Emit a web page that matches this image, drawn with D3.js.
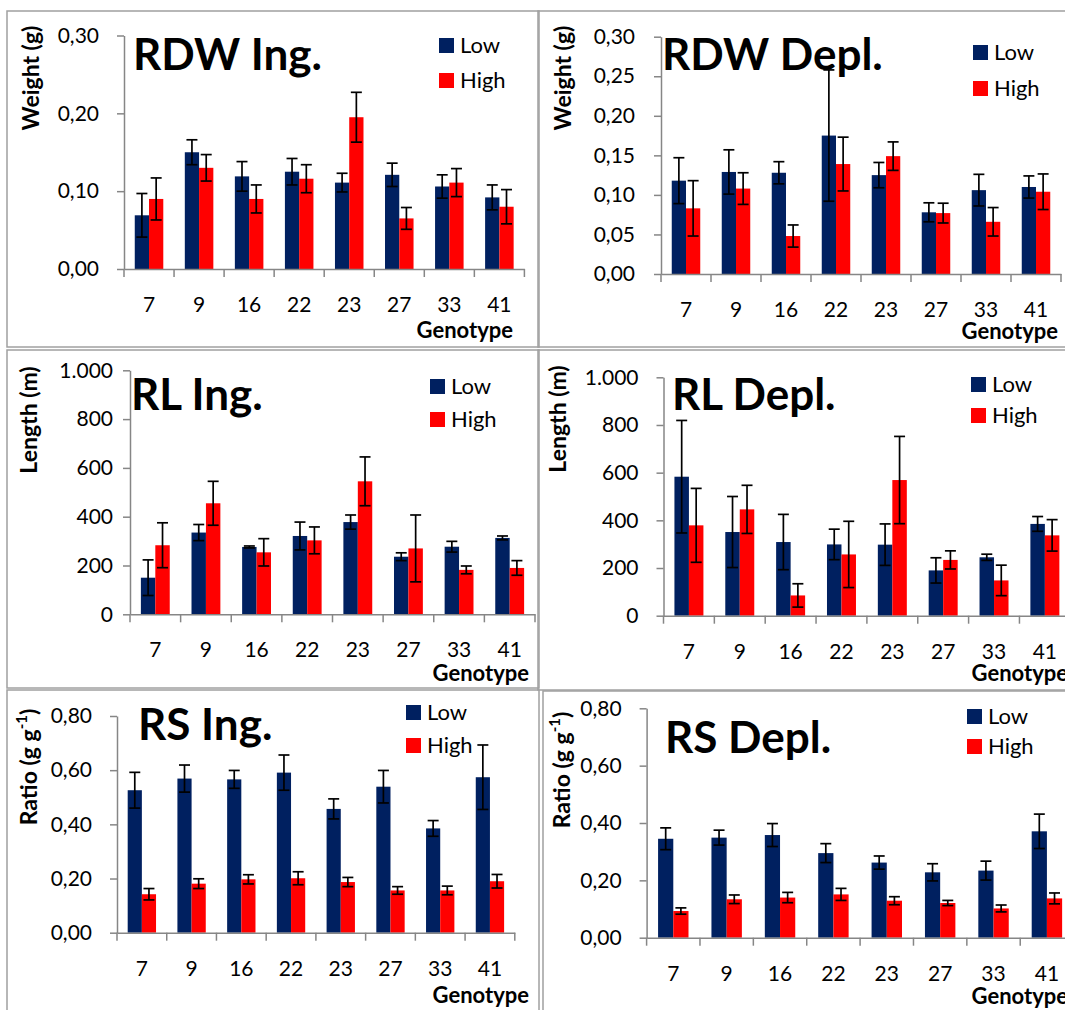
<!DOCTYPE html>
<html>
<head>
<meta charset="utf-8">
<script src="https://cdn.jsdelivr.net/npm/d3@7"></script>
<style>
  body { margin: 0; background: #fff; }
  svg text { font-family: Lato, "Open Sans", sans-serif; fill: #000; }
</style>
</head>
<body>
<svg id="chart" width="1065" height="1010"></svg>
<script>

// categories and series
var genotypes = ["7", "9", "16", "22", "23", "27", "33", "41"];
var series = ["Low", "High"];

// RDW Ing. (g)
var rdwIngLow = [0.069, 0.150, 0.119, 0.125, 0.111, 0.121, 0.106, 0.092];
var rdwIngLowErr = [0.028, 0.016, 0.019, 0.017, 0.012, 0.015, 0.015, 0.016];
var rdwIngHigh = [0.090, 0.130, 0.090, 0.116, 0.195, 0.065, 0.111, 0.080];
var rdwIngHighErr = [0.027, 0.017, 0.018, 0.018, 0.032, 0.014, 0.018, 0.022];

// RDW Depl. (g)
var rdwDeplLow = [0.118, 0.129, 0.128, 0.175, 0.125, 0.078, 0.106, 0.110];
var rdwDeplLowErr = [0.029, 0.028, 0.014, 0.083, 0.016, 0.012, 0.020, 0.014];
var rdwDeplHigh = [0.083, 0.108, 0.048, 0.139, 0.149, 0.077, 0.066, 0.104];
var rdwDeplHighErr = [0.035, 0.020, 0.014, 0.034, 0.018, 0.0125, 0.018, 0.0225];

// RL Ing. (m)
var rlIngLow = [150, 335, 276, 321, 378, 236, 277, 313];
var rlIngLowErr = [73, 33, 4, 57, 29, 16, 22, 8];
var rlIngHigh = [283, 455, 254, 303, 545, 270, 182, 190];
var rlIngHighErr = [92, 90, 56, 55, 100, 137, 16, 30];

// RL Depl. (m)
var rlDeplLow = [583, 351, 309, 299, 298, 190, 245, 385];
var rlDeplLowErr = [236, 149, 116, 64, 87, 53, 13, 31];
var rlDeplHigh = [379, 446, 85, 257, 569, 234, 148, 337];
var rlDeplHighErr = [155, 101, 49, 139, 183, 38, 64, 66];

// RS Ing. (g g-1)
var rsIngLow = [0.526, 0.569, 0.566, 0.591, 0.457, 0.539, 0.385, 0.574];
var rsIngLowErr = [0.066, 0.050, 0.033, 0.065, 0.037, 0.060, 0.029, 0.119];
var rsIngHigh = [0.142, 0.181, 0.197, 0.201, 0.187, 0.156, 0.156, 0.190];
var rsIngHighErr = [0.021, 0.018, 0.017, 0.024, 0.017, 0.014, 0.016, 0.025];

// RS Depl. (g g-1)
var rsDeplLow = [0.345, 0.349, 0.358, 0.295, 0.262, 0.228, 0.234, 0.371];
var rsDeplLowErr = [0.038, 0.026, 0.040, 0.033, 0.023, 0.030, 0.033, 0.060];
var rsDeplHigh = [0.093, 0.134, 0.140, 0.151, 0.129, 0.121, 0.102, 0.137];
var rsDeplHighErr = [0.011, 0.015, 0.018, 0.021, 0.014, 0.009, 0.012, 0.019];

// y tick values
var rdwIngTicks = [0, 0.1, 0.2, 0.3];
var rdwDeplTicks = [0, 0.05, 0.1, 0.15, 0.2, 0.25, 0.3];
var rlTicks = [0, 200, 400, 600, 800, 1000];
var rsTicks = [0, 0.2, 0.4, 0.6, 0.8];

var colors = {Low: "#002060", High: "#ff0000"};

// comma decimals, dot thousands
var locale = d3.formatLocale({decimal: ",", thousands: ".", grouping: [3], currency: ["", ""]});
var fmt2 = locale.format(".2f");
var fmtInt = locale.format(",");

var svg = d3.select("#chart");

/**
 * Draws one chart box: bars, error bars, axes, title, legend
 */
function drawPanel(p){
    var g = svg.append("g");

    //chart area border
    g.append("rect")
        .attr("x", p.box[0]).attr("y", p.box[1])
        .attr("width", p.box[2]).attr("height", p.box[3])
        .attr("fill", "none")
        .attr("stroke", "#a0a0a0")
        .attr("stroke-width", 1.5);

    var x = d3.scaleBand().domain(genotypes).range([p.x0, p.x1]);
    var bw = x.bandwidth();
    var xs = d3.scaleBand().domain(series).range([bw * 0.215, bw * 0.785]);
    var y = d3.scaleLinear().domain([0, p.ymax]).range([p.y0, p.yTop]);

    // bars
    series.forEach(function(s){
        var vals = p.values[s];
        g.append("g").selectAll("rect")
            .data(genotypes)
            .enter().append("rect")
            .attr("x", function(d){ return x(d) + xs(s); })
            .attr("y", function(d, i){ return y(vals[i]); })
            .attr("width", xs.bandwidth())
            .attr("height", function(d, i){ return y(0) - y(vals[i]); })
            .attr("fill", colors[s]);
    });

    // error bars on top
    series.forEach(function(s){
        var vals = p.values[s], errs = p.errors[s];
        var eg = g.append("g").attr("stroke", "#000").attr("stroke-width", 1.7);
        genotypes.forEach(function(d, i){
            var cx = x(d) + xs(s) + xs.bandwidth() / 2;
            var hi = y(vals[i] + errs[i]), lo = y(Math.max(0, vals[i] - errs[i]));
            eg.append("line").attr("x1", cx).attr("x2", cx).attr("y1", hi).attr("y2", lo);
            eg.append("line").attr("x1", cx - 5.5).attr("x2", cx + 5.5).attr("y1", hi).attr("y2", hi);
            eg.append("line").attr("x1", cx - 5.5).attr("x2", cx + 5.5).attr("y1", lo).attr("y2", lo);
        });
    });

    // y axis
    var yAxis = g.append("g")
        .attr("transform", "translate(" + p.x0 + ",0)")
        .call(d3.axisLeft(y).tickValues(p.ticks).tickFormat(p.fmt)
            .tickSize(7).tickSizeOuter(0).tickPadding(p.pad));

    // x axis, labels in the middle of each category
    var xAxis = g.append("g")
        .attr("transform", "translate(0," + p.y0 + ")")
        .call(d3.axisBottom(x).tickSize(0).tickSizeOuter(0).tickPadding(28));

    // tick marks between categories
    xAxis.selectAll(".sep")
        .data(genotypes.map(function(d){ return x(d); }).concat([x.range()[1]]))
        .enter().append("line")
        .attr("class", "sep")
        .attr("x1", function(d){ return d; })
        .attr("x2", function(d){ return d; })
        .attr("y1", 0).attr("y2", 8);

    [yAxis, xAxis].forEach(function(a){
        a.selectAll("path, line").attr("stroke", "#868686").attr("stroke-width", 1.5);
        a.selectAll("text").attr("font-size", 21).attr("fill", "#000")
            .style("font-family", "Lato, 'Open Sans', sans-serif");
    });

    // y axis title
    var yl = g.append("text")
        .attr("transform", "translate(" + p.ylabel[0] + "," + p.ylabel[1] + ") rotate(-90)")
        .attr("text-anchor", "middle")
        .attr("dominant-baseline", "middle")
        .attr("font-size", 23)
        .attr("font-weight", "bold");
    yl.append("tspan").text(p.ytitle);
    if (p.ysup){
        yl.append("tspan").attr("dy", -8).attr("font-size", 15).text(p.ysup);
        yl.append("tspan").attr("dy", 8).text(")");
    }

    g.append("text")
        .attr("x", p.genotype[0]).attr("y", p.genotype[1])
        .attr("text-anchor", "end")
        .attr("font-size", 22)
        .attr("font-weight", "bold")
        .text("Genotype");

    // big title
    g.append("text")
        .attr("x", p.title[0]).attr("y", p.title[1])
        .attr("font-size", 44)
        .attr("font-weight", "bold")
        .text(p.name);

    // legend
    series.forEach(function(s, i){
        var ly = p.legend[1] + i * p.legend[2];
        g.append("rect")
            .attr("x", p.legend[0]).attr("y", ly)
            .attr("width", 15).attr("height", 15)
            .attr("fill", colors[s]);
        g.append("text")
            .attr("x", p.legend[0] + 21).attr("y", ly + 15)
            .attr("font-size", 22)
            .text(s);
    });
}

drawPanel({
    name: "RDW Ing.", box: [7, 11, 532, 336],
    x0: 124, x1: 524.4, y0: 269, yTop: 35.5, ymax: 0.3,
    ticks: rdwIngTicks, fmt: fmt2, pad: 18,
    values: {Low: rdwIngLow, High: rdwIngHigh}, errors: {Low: rdwIngLowErr, High: rdwIngHighErr},
    ytitle: "Weight (g)", ylabel: [33, 78], genotype: [513, 338],
    title: [133, 70], legend: [439, 38, 35]
});

drawPanel({
    name: "RDW Depl.", box: [538, 11, 540, 336],
    x0: 661, x1: 1061, y0: 274, yTop: 36.7, ymax: 0.3,
    ticks: rdwDeplTicks, fmt: fmt2, pad: 19,
    values: {Low: rdwDeplLow, High: rdwDeplHigh}, errors: {Low: rdwDeplLowErr, High: rdwDeplHighErr},
    ytitle: "Weight (g)", ylabel: [565, 78], genotype: [1058, 339],
    title: [662, 70], legend: [973, 45, 36]
});

drawPanel({
    name: "RL Ing.", box: [7, 350, 532, 338],
    x0: 130, x1: 535, y0: 614.3, yTop: 370.3, ymax: 1000,
    ticks: rlTicks, fmt: fmtInt, pad: 10,
    values: {Low: rlIngLow, High: rlIngHigh}, errors: {Low: rlIngLowErr, High: rlIngHighErr},
    ytitle: "Length (m)", ylabel: [31, 420], genotype: [529, 681],
    title: [131, 410], legend: [430, 379, 33]
});

drawPanel({
    name: "RL Depl.", box: [538, 350, 540, 340],
    x0: 663.5, x1: 1070.3, y0: 615.7, yTop: 377.3, ymax: 1000,
    ticks: rlTicks, fmt: fmtInt, pad: 18,
    values: {Low: rlDeplLow, High: rlDeplHigh}, errors: {Low: rlDeplLowErr, High: rlDeplHighErr},
    ytitle: "Length (m)", ylabel: [560, 419], genotype: [1068, 681],
    title: [672, 410], legend: [971, 377, 31]
});

drawPanel({
    name: "RS Ing.", box: [7, 690, 532, 330],
    x0: 117, x1: 514.8, y0: 932.7, yTop: 716, ymax: 0.8,
    ticks: rsTicks, fmt: fmt2, pad: 18,
    values: {Low: rsIngLow, High: rsIngHigh}, errors: {Low: rsIngLowErr, High: rsIngHighErr},
    ytitle: "Ratio (g g", ysup: "-1", ylabel: [31, 767], genotype: [529, 1003],
    title: [138, 740], legend: [406, 705, 33]
});

drawPanel({
    name: "RS Depl.", box: [543, 691, 530, 330],
    x0: 646.6, x1: 1073.6, y0: 937.7, yTop: 708.3, ymax: 0.8,
    ticks: rsTicks, fmt: fmt2, pad: 18,
    values: {Low: rsDeplLow, High: rsDeplHigh}, errors: {Low: rsDeplLowErr, High: rsDeplHighErr},
    ytitle: "Ratio (g g", ysup: "-1", ylabel: [564, 770], genotype: [1068, 1004],
    title: [665, 753], legend: [967, 709, 30]
});

</script>
</body>
</html>
